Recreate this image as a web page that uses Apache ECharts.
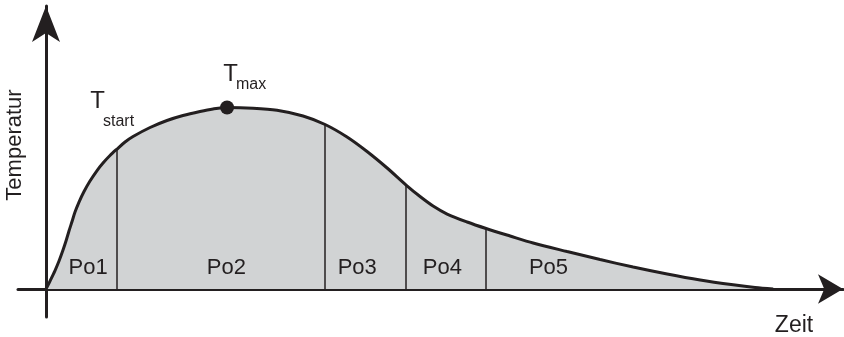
<!DOCTYPE html>
<html>
<head>
<meta charset="utf-8">
<script src="https://cdn.jsdelivr.net/npm/echarts@6/dist/echarts.min.js"></script>
<style>
  html, body { margin: 0; padding: 0; background: #fff; }
  #main { width: 844px; height: 337px; }
</style>
</head>
<body>
<div id="main"></div>
<script>
const myChart = echarts.init(document.getElementById('main'));

// Zeit (0..100) und Temperatur (Tmax = 100)
const zeit = [0, 0.55, 1.24, 1.79, 2.34, 2.75, 3.16, 3.58, 3.99, 4.54,
  5.23, 6.05, 7.02, 7.84, 8.80, 9.77, 10.87, 11.97, 14.31, 16.64,
  18.84, 21.18, 22.97, 24.90, 28.47, 31.77, 35.35, 38.38, 41.40, 44.15,
  46.91, 49.52, 51.44, 53.23, 55.16, 57.91, 60.52, 63.82, 66.99, 71.66,
  76.20, 80.74, 85.42, 89.96, 94.50, 97.52, 100];
const temperatur = [0, 4.41, 10.19, 15.43, 21.49, 26.45, 31.96, 37.19, 42.42, 47.93,
  53.72, 59.50, 65.29, 69.42, 73.55, 77.13, 80.99, 84.02, 88.98, 92.84,
  95.59, 97.80, 99.17, 100, 99.61, 98.46, 95.32, 90.63, 83.75, 75.76,
  66.67, 57.30, 50.96, 45.73, 41.32, 36.91, 33.33, 29.20, 25.34, 20.66,
  16.25, 12.12, 8.26, 4.96, 2.31, 0.83, 0];

// Grenzen der Phasen Po1..Po5
const grenzZeit = [9.77, 38.38, 49.52, 60.52];
const grenzTemp = [77.13, 90.63, 57.30, 33.33];

// Phasen-Beschriftungen
const phasen = ['Po1', 'Po2', 'Po3', 'Po4', 'Po5'];
const phasenZeit = [5.8, 24.8, 42.8, 54.5, 69.1];
const phasenTemp = 11.6;

// Tmax
const tmax = [24.9, 100];

const ink = '#231f20';
const font = '"Liberation Sans", Arial, Helvetica, sans-serif';

const kurve = zeit.map((t, i) => [t, temperatur[i]]);

const option = {
  backgroundColor: '#fff',
  animation: false,
  grid: { left: 18, right: 1, top: 6, bottom: 20, containLabel: false },
  xAxis: {
    type: 'value',
    min: -3.85,
    max: 109.6,
    axisLine: {
      onZero: true,
      symbol: ['none', 'arrow'],
      symbolSize: [22, 25],
      lineStyle: { color: ink, width: 3 }
    },
    axisTick: { show: false },
    axisLabel: { show: false },
    splitLine: { show: false }
  },
  yAxis: {
    type: 'value',
    min: -15.4,
    max: 155.9,
    axisLine: {
      onZero: true,
      symbol: ['none', 'arrow'],
      symbolSize: [21, 36],
      lineStyle: { color: ink, width: 3 }
    },
    axisTick: { show: false },
    axisLabel: { show: false },
    splitLine: { show: false }
  },
  series: [
    { // Fläche
      type: 'line',
      data: kurve,
      smooth: 0.3,
      symbol: 'none',
      lineStyle: { width: 0 },
      areaStyle: { color: '#d1d3d4', opacity: 1 },
      silent: true,
      z: 1
    },
    { // Trennlinien
      type: 'line',
      data: [],
      symbol: 'none',
      silent: true,
      z: 2,
      markLine: {
        silent: true,
        symbol: 'none',
        label: { show: false },
        lineStyle: { color: ink, width: 1.5, type: 'solid', opacity: 1 },
        data: grenzZeit.map((t, i) => [{ coord: [t, 0] }, { coord: [t, grenzTemp[i]] }])
      }
    },
    { // Kurve
      type: 'line',
      data: kurve,
      smooth: 0.3,
      symbol: 'none',
      lineStyle: { color: ink, width: 3 },
      silent: true,
      z: 3
    },
    { // Tmax Punkt
      type: 'scatter',
      data: [tmax],
      symbolSize: 14,
      itemStyle: { color: ink, opacity: 1 },
      silent: true,
      z: 4
    },
    { // Po-Labels
      type: 'scatter',
      data: phasenZeit.map((t, i) => ({ value: [t, phasenTemp], name: phasen[i] })),
      symbolSize: 0,
      itemStyle: { opacity: 1 },
      silent: true,
      z: 5,
      label: {
        show: true,
        position: 'inside',
        formatter: p => p.name,
        fontFamily: font,
        fontSize: 22,
        color: ink,
        textBorderWidth: 0,
        opacity: 1
      }
    }
  ],
  graphic: [
    { type: 'text', x: 97.5, y: 101, style: { text: 'T', fontFamily: font, fontSize: 24, fill: ink, align: 'center', verticalAlign: 'middle', textAlign: 'center', textVerticalAlign: 'middle' } },
    { type: 'text', x: 103, y: 122, style: { text: 'start', fontFamily: font, fontSize: 16, fill: ink, align: 'left', verticalAlign: 'middle', textAlign: 'left', textVerticalAlign: 'middle' } },
    { type: 'text', x: 230.5, y: 74, style: { text: 'T', fontFamily: font, fontSize: 24, fill: ink, align: 'center', verticalAlign: 'middle', textAlign: 'center', textVerticalAlign: 'middle' } },
    { type: 'text', x: 236, y: 85, style: { text: 'max', fontFamily: font, fontSize: 16, fill: ink, align: 'left', verticalAlign: 'middle', textAlign: 'left', textVerticalAlign: 'middle' } },
    { type: 'text', x: 15, y: 145, rotation: Math.PI / 2, style: { text: 'Temperatur', fontFamily: font, fontSize: 22, fill: ink, align: 'center', verticalAlign: 'middle', textAlign: 'center', textVerticalAlign: 'middle' } },
    { type: 'text', x: 794, y: 326, style: { text: 'Zeit', fontFamily: font, fontSize: 23, fill: ink, align: 'center', verticalAlign: 'middle', textAlign: 'center', textVerticalAlign: 'middle' } }
  ]
};
myChart.setOption(option);
</script>
</body>
</html>
